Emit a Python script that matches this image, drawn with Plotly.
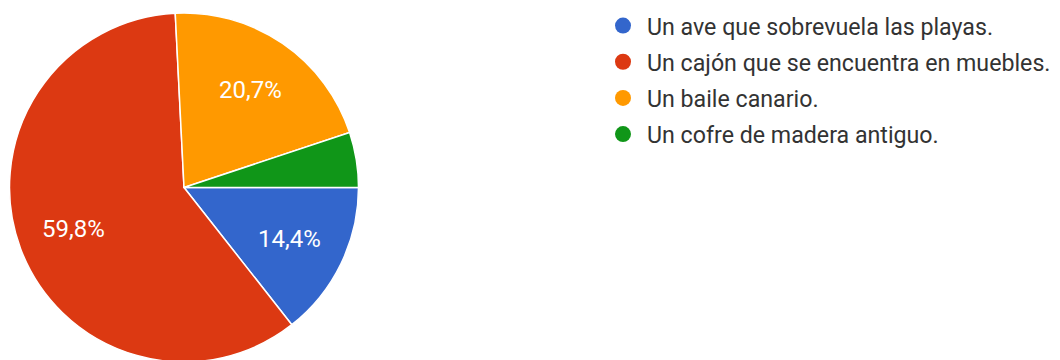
import math
import plotly.graph_objects as go

labels = [
    "Un ave que sobrevuela las playas.",
    "Un cajón que se encuentra en muebles.",
    "Un baile canario.",
    "Un cofre de madera antiguo.",
]
values = [14.4, 59.8, 20.7, 5.1]
colors = ["#3366cc", "#dc3912", "#ff9900", "#109618"]

W, H = 1060, 360
CX, CY, R = 176, 179.5, 174.5  # pie centre / radius in figure pixels

fig = go.Figure()
fig.add_trace(go.Pie(
    labels=labels, values=values, textinfo="none",
    sort=False, direction="clockwise", rotation=90,
    marker=dict(colors=colors, line=dict(color="white", width=1.5)),
    domain=dict(x=[(CX - R) / W, (CX + R) / W], y=[1 - (CY + R) / H, 1 - (CY - R) / H]),
    showlegend=False, hoverinfo="label+percent",
))

# slice labels (Google-style: along the slice bisector, hidden for small slices)
total = sum(values)
start = 0.0
for v in values:
    frac = v / total
    mid = (start + frac / 2) * 2 * math.pi
    start += frac
    if v < 10:
        continue
    px = CX + 0.68 * 173 * math.cos(mid)
    py = CY + 0.68 * 173 * math.sin(mid)
    fig.add_annotation(
        x=px / W, y=1 - py / H, xref="paper", yref="paper",
        text=f"{v:.1f}%".replace(".", ","), showarrow=False,
        font=dict(family="Roboto, Arial, sans-serif", size=24, color="white"),
        xanchor="center", yanchor="middle",
    )

for i, (lab, col) in enumerate(zip(labels, colors)):
    fig.add_trace(go.Scatter(
        x=[None], y=[None], mode="markers", name=lab,
        marker=dict(symbol="circle", size=19, color=col),
        legendgroup=f"g{i}", showlegend=True,
    ))

fig.update_layout(
    width=W, height=H, margin=dict(l=0, r=0, t=0, b=0, autoexpand=False),
    paper_bgcolor="white", plot_bgcolor="white",
    xaxis=dict(visible=False, domain=[0.9, 1]), yaxis=dict(visible=False),
    legend=dict(
        x=591 / W, xanchor="left", y=1 + 4 / H, yanchor="top",
        font=dict(family="Roboto, Arial, sans-serif", size=23.2, color="#333333"),
        itemsizing="trace", itemwidth=38, traceorder="grouped", tracegroupgap=3,
        bgcolor="rgba(0,0,0,0)",
    ),
)
fig.write_html("out.html")
